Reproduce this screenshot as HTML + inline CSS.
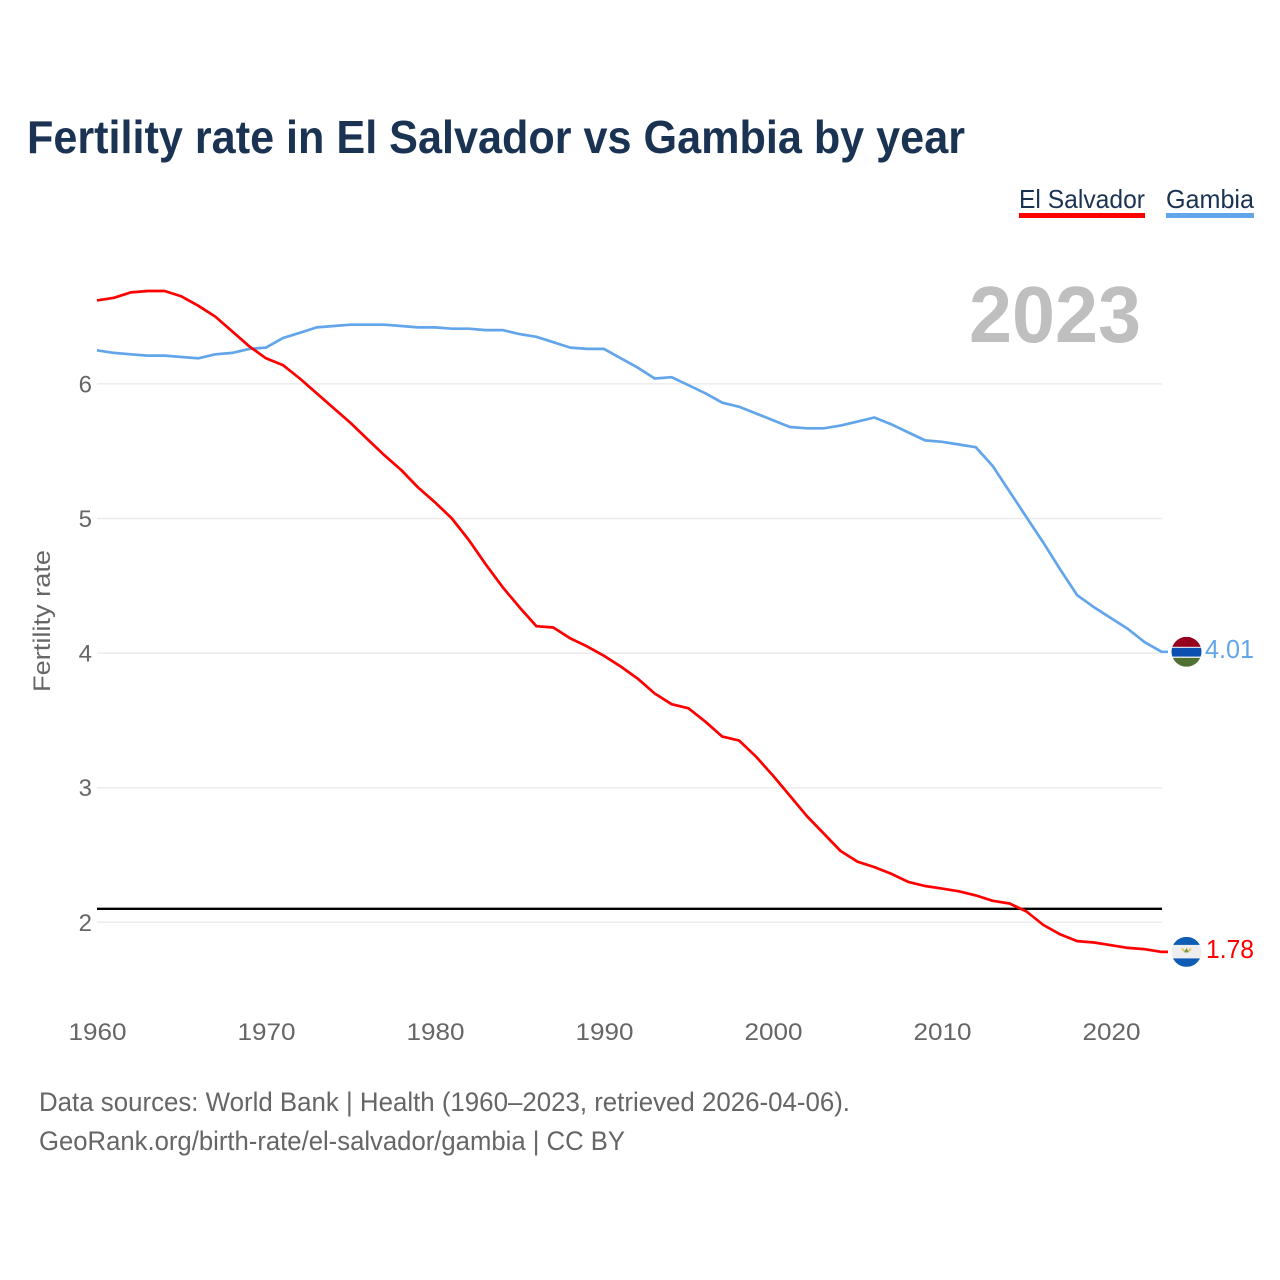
<!DOCTYPE html>
<html lang="en">
<head>
<meta charset="utf-8">
<title>Fertility rate in El Salvador vs Gambia by year</title>
<style>
html,body{margin:0;padding:0;background:#fff;width:1280px;height:1280px;overflow:hidden}
svg{display:block}
text{font-family:"Liberation Sans",sans-serif}
</style>
</head>
<body>
<svg id="chart" xmlns="http://www.w3.org/2000/svg" width="1280" height="1280" viewBox="0 0 1280 1280">
  <defs>
    <clipPath id="flag-clip"><circle cx="0" cy="0" r="15"/></clipPath>
  </defs>
  <rect x="0" y="0" width="1280" height="1280" fill="#ffffff"/>
  <text x="27" y="153" font-size="46" font-weight="700" fill="#1a3353" textLength="938" lengthAdjust="spacingAndGlyphs">Fertility rate in El Salvador vs Gambia by year</text>

  <g>
    <text x="1019" y="208" font-size="26" fill="#1a3353" textLength="126" lengthAdjust="spacingAndGlyphs">El Salvador</text>
    <rect x="1019" y="213" width="126" height="5" fill="#ff0000"/>
  </g>
  <g>
    <text x="1166" y="208" font-size="26" fill="#1a3353" textLength="88" lengthAdjust="spacingAndGlyphs">Gambia</text>
    <rect x="1166" y="213" width="88" height="5" fill="#62a5ea"/>
  </g>

  <text x="969" y="342" font-size="80" font-weight="700" fill="#bfbfbf" textLength="172" lengthAdjust="spacingAndGlyphs">2023</text>

  <g id="grid"></g>
  <g id="y-ticks"></g>
  <g id="x-ticks"></g>
  <text transform="translate(50,621) rotate(-90)" text-anchor="middle" font-size="24" fill="#666666" textLength="142" lengthAdjust="spacingAndGlyphs">Fertility rate</text>

  <line id="replacement-line" stroke="#000000" stroke-width="2.4"/>

  <path id="line-gambia" fill="none" stroke="#62a5ea" stroke-width="2.7" stroke-linejoin="round"/>
  <path id="line-salvador" fill="none" stroke="#ff0000" stroke-width="2.7" stroke-linejoin="round"/>

  <g id="flag-gambia">
    <g clip-path="url(#flag-clip)">
      <rect x="-15" y="-15" width="30" height="30" fill="#ffffff"/>
      <rect x="-15" y="-15" width="30" height="10" fill="#95001f"/>
      <rect x="-15" y="-4" width="30" height="8.8" fill="#0b50b0"/>
      <rect x="-15" y="6" width="30" height="9" fill="#4f7032"/>
    </g>
  </g>
  <g id="flag-salvador">
    <g clip-path="url(#flag-clip)">
      <rect x="-15" y="-15" width="30" height="30" fill="#eeeeee"/>
      <rect x="-15" y="-15" width="30" height="8" fill="#0f5cb5"/>
      <rect x="-15" y="6.5" width="30" height="8.5" fill="#0f5cb5"/>
      <path d="M-5.2 -3.5 A5.4 5.4 0 0 0 5.2 -3.5 L3.2 -3.5 A3.4 3.4 0 0 1 -3.2 -3.5 Z" fill="#e6c24a"/>
      <path d="M-2.4 0.5 L0 -4 L2.4 0.5 Z" fill="#6f9a55"/>
    </g>
  </g>
  <text id="value-gambia" x="1205" font-size="26" fill="#62a5ea" textLength="49" lengthAdjust="spacingAndGlyphs"></text>
  <text id="value-salvador" x="1206" font-size="26" fill="#ff0000" textLength="48" lengthAdjust="spacingAndGlyphs"></text>

  <text x="39" y="1111" font-size="27" fill="#666666" textLength="811" lengthAdjust="spacingAndGlyphs">Data sources: World Bank | Health (1960–2023, retrieved 2026-04-06).</text>
  <text x="39" y="1150" font-size="27" fill="#666666" textLength="586" lengthAdjust="spacingAndGlyphs">GeoRank.org/birth-rate/el-salvador/gambia | CC BY</text>
</svg>
<script>
const startYear = 1960;
const xTickYears = [1960, 1970, 1980, 1990, 2000, 2010, 2020];
const yTickValues = [2, 3, 4, 5, 6];
const replacementRate = [2.1];
const salvadorValues = [6.62,6.64,6.68,6.69,6.69,6.65,6.58,6.50,6.39,6.28,6.19,6.14,6.04,5.93,5.82,5.71,5.59,5.47,5.36,5.23,5.12,5.00,4.84,4.66,4.49,4.34,4.20,4.19,4.11,4.05,3.98,3.90,3.81,3.70,3.62,3.59,3.49,3.38,3.35,3.23,3.09,2.94,2.79,2.66,2.53,2.45,2.41,2.36,2.30,2.27,2.25,2.23,2.20,2.16,2.14,2.08,1.98,1.91,1.86,1.85,1.83,1.81,1.80,1.78];
const gambiaValues = [6.25,6.23,6.22,6.21,6.21,6.20,6.19,6.22,6.23,6.26,6.27,6.34,6.38,6.42,6.43,6.44,6.44,6.44,6.43,6.42,6.42,6.41,6.41,6.40,6.40,6.37,6.35,6.31,6.27,6.26,6.26,6.19,6.12,6.04,6.05,5.99,5.93,5.86,5.83,5.78,5.73,5.68,5.67,5.67,5.69,5.72,5.75,5.70,5.64,5.58,5.57,5.55,5.53,5.39,5.20,5.01,4.82,4.62,4.43,4.34,4.26,4.18,4.08,4.01];

const NS = 'http://www.w3.org/2000/svg';
const plotRight = 1162;
function xScale(year) { return 97 + (year - 1960) * 16.9; }
function yScale(v) { return 922.3 - (v - 2) * 134.6; }

function linePath(values) {
  const pts = values.map(function (v, i) {
    return xScale(startYear + i).toFixed(1) + ' ' + yScale(v).toFixed(1);
  });
  const last = yScale(values[values.length - 1]).toFixed(1);
  return 'M' + pts.join(' L') + ' L1168 ' + last;
}

const grid = document.getElementById('grid');
const yTicks = document.getElementById('y-ticks');
yTickValues.forEach(function (v) {
  const l = document.createElementNS(NS, 'line');
  
  
  l.setAttribute('x1', 97);
  l.setAttribute('x2', plotRight);
  l.setAttribute('y1', yScale(v));
  l.setAttribute('y2', yScale(v));
  l.setAttribute('stroke', '#ececec');
  l.setAttribute('stroke-width', '1.5');
  grid.appendChild(l);
  const t = document.createElementNS(NS, 'text');
  
  
  t.setAttribute('x', 92);
  t.setAttribute('y', yScale(v) + 8.5);
  t.setAttribute('text-anchor', 'end');
  t.setAttribute('font-size', '24');
  t.setAttribute('fill', '#666666');
  t.textContent = String(v);
  yTicks.appendChild(t);
});

const xTicks = document.getElementById('x-ticks');
xTickYears.forEach(function (y) {
  const t = document.createElementNS(NS, 'text');
  
  
  t.setAttribute('x', xScale(y) + 0.5);
  t.setAttribute('y', 1040);
  t.setAttribute('text-anchor', 'middle');
  t.setAttribute('font-size', '24');
  t.setAttribute('fill', '#666666');
  t.setAttribute('textLength', '58');
  t.setAttribute('lengthAdjust', 'spacingAndGlyphs');
  t.textContent = String(y);
  xTicks.appendChild(t);
});

const ref = document.getElementById('replacement-line');
ref.setAttribute('x1', 97);
ref.setAttribute('x2', plotRight);
ref.setAttribute('y1', yScale(replacementRate[0]));
ref.setAttribute('y2', yScale(replacementRate[0]));

document.getElementById('line-gambia').setAttribute('d', linePath(gambiaValues));
document.getElementById('line-salvador').setAttribute('d', linePath(salvadorValues));

const gLast = gambiaValues[gambiaValues.length - 1];
const sLast = salvadorValues[salvadorValues.length - 1];
document.getElementById('flag-gambia').setAttribute('transform', 'translate(1186.5,' + yScale(gLast).toFixed(1) + ')');
document.getElementById('flag-salvador').setAttribute('transform', 'translate(1186.5,' + yScale(sLast).toFixed(1) + ')');
const vg = document.getElementById('value-gambia');
vg.setAttribute('y', yScale(gLast) + 6);
vg.textContent = gLast.toFixed(2);
const vs = document.getElementById('value-salvador');
vs.setAttribute('y', yScale(sLast) + 6);
vs.textContent = sLast.toFixed(2);
</script>
</body>
</html>
